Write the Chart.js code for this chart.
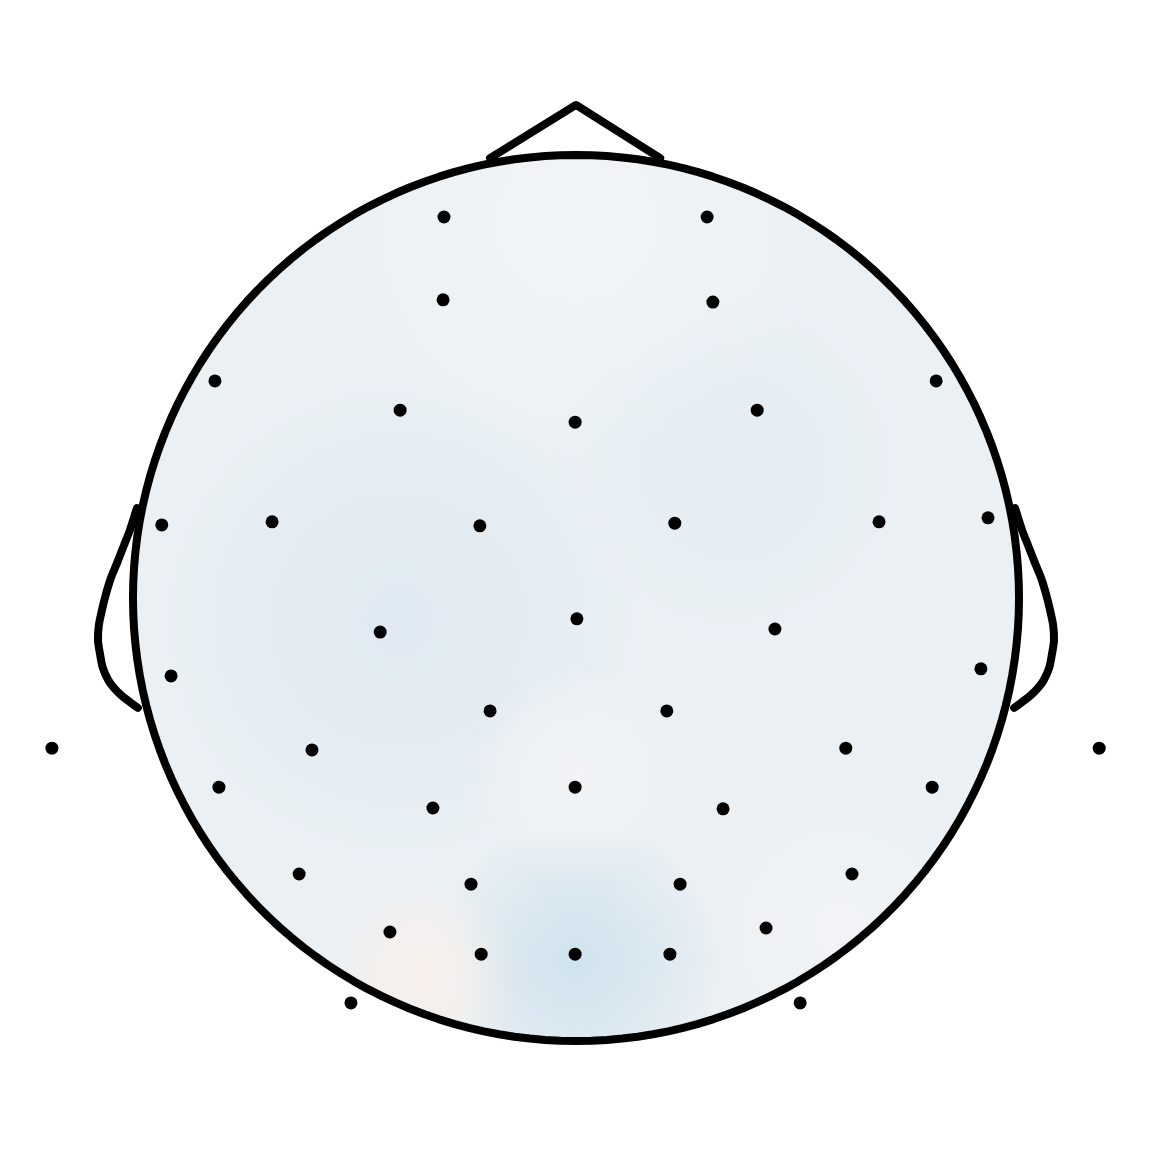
<!DOCTYPE html>
<html>
<head>
<meta charset="utf-8">
<script src="https://cdn.jsdelivr.net/npm/chart.js@4.4.1/dist/chart.umd.min.js"></script>
<style>
html,body{margin:0;padding:0;background:#fff;}
#wrap{width:1152px;height:1152px;}
</style>
</head>
<body>
<div id="wrap"><canvas id="c" width="1152" height="1152"></canvas></div>
<script>
// Sensor positions (head-radius units, head centre = 0,0)
const sensorX = [-0.298,0.296,-0.300,0.309,-0.815,-0.397,-0.002,0.409,0.813,-0.935,-0.686,-0.217,0.223,0.684,0.930,-0.442,0.002,0.449,-0.914,0.914,-0.194,0.205,-1.183,-0.596,0.609,1.181,-0.806,-0.002,0.804,-0.323,0.332,-0.625,-0.237,0.235,0.623,-0.420,0.429,-0.214,-0.002,0.212,-0.508,0.506];
const sensorY = [0.860,0.860,0.673,0.668,0.490,0.424,0.397,0.424,0.490,0.165,0.172,0.163,0.169,0.172,0.181,-0.077,-0.047,-0.070,-0.176,-0.160,-0.255,-0.255,-0.339,-0.343,-0.339,-0.339,-0.427,-0.427,-0.427,-0.474,-0.476,-0.623,-0.646,-0.646,-0.623,-0.754,-0.745,-0.804,-0.804,-0.804,-0.914,-0.914];
// Nose outline
const noseX = [-0.194,0,0.190];
const noseY = [0.993,1.113,0.993];
// Left ear outline (right ear mirrors it)
const earX = [-0.991,-1.007,-1.020,-1.036,-1.050,-1.061,-1.070,-1.077,-1.079,-1.074,-1.068,-1.056,-1.043,-1.025,-0.989];
const earY = [0.203,0.153,0.120,0.079,0.045,0.009,-0.027,-0.061,-0.095,-0.129,-0.158,-0.185,-0.203,-0.221,-0.248];
// Field blobs: centre x, centre y, radius, colour
const blobX = [0.0, -0.40, 0.0, -0.35, 0.0, 0.6, 0.35];
const blobY = [0.85, -0.05, -0.82, -0.85, -0.40, -0.75, 0.3];
const blobR = [0.55, 0.55, 0.32, 0.22, 0.25, 0.3, 0.4];
const blobC = ['242,245,247','224,234,242','208,227,238','248,240,235','241,243,245','242,244,246','229,237,243'];

const circle = [];
for (let a = 0; a <= 360; a += 2) {
  const r = a * Math.PI / 180;
  circle.push({x: Math.cos(r), y: Math.sin(r)});
}
const pts = (xs, ys) => xs.map((x, i) => ({x: x, y: ys[i]}));

const fieldPlugin = {
  id: 'field',
  beforeDatasetsDraw(chart) {
    const ctx = chart.ctx, xs = chart.scales.x, ys = chart.scales.y;
    const cx = xs.getPixelForValue(0), cy = ys.getPixelForValue(0);
    const R = xs.getPixelForValue(1) - cx;
    ctx.save();
    ctx.beginPath();
    ctx.arc(cx, cy, R, 0, Math.PI * 2);
    ctx.clip();
    ctx.fillStyle = '#eaf0f4';
    ctx.fillRect(cx - R, cy - R, 2 * R, 2 * R);
    for (let i = 0; i < blobX.length; i++) {
      const bx = xs.getPixelForValue(blobX[i]), by = ys.getPixelForValue(blobY[i]);
      const br = blobR[i] * R;
      const g = ctx.createRadialGradient(bx, by, 0, bx, by, br);
      g.addColorStop(0, 'rgba(' + blobC[i] + ',1)');
      g.addColorStop(0.5, 'rgba(' + blobC[i] + ',0.6)');
      g.addColorStop(1, 'rgba(' + blobC[i] + ',0)');
      ctx.fillStyle = g;
      ctx.fillRect(bx - br, by - br, 2 * br, 2 * br);
    }
    ctx.restore();
  }
};

const lineDs = (data) => ({type: 'line', data: data, showLine: true, borderColor: '#000', borderWidth: 8, pointRadius: 0, fill: false, tension: 0, clip: false, borderJoinStyle: 'round', borderCapStyle: 'round'});

new Chart(document.getElementById('c'), {
  type: 'scatter',
  data: {
    datasets: [
      lineDs(circle),
      lineDs(pts(noseX, noseY)),
      Object.assign(lineDs(pts(earX, earY)), {tension: 0.3}),
      Object.assign(lineDs(pts(earX.map(v => -v), earY)), {tension: 0.3}),
      {data: pts(sensorX, sensorY), backgroundColor: '#000', borderColor: '#000', pointRadius: 6.5, borderWidth: 0, clip: false}
    ]
  },
  options: {
    responsive: false,
    animation: false,
    layout: {padding: 0, autoPadding: false},
    plugins: {legend: {display: false}, tooltip: {enabled: false}},
    scales: {
      x: {type: 'linear', display: false, min: -1.3002, max: 1.3002},
      y: {type: 'linear', display: false, min: -1.2506, max: 1.3499}
    }
  },
  plugins: [fieldPlugin]
});
</script>
</body>
</html>
